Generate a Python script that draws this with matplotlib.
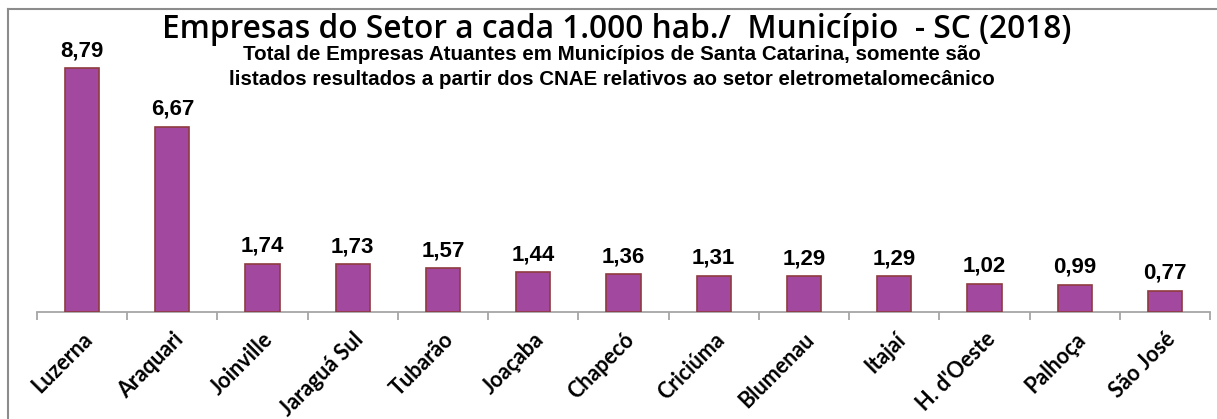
import matplotlib
matplotlib.use("Agg")
import matplotlib.pyplot as plt
from matplotlib.lines import Line2D

municipios = ["Luzerna", "Araquari", "Joinville", "Jaraguá Sul", "Tubarão", "Joaçaba",
              "Chapecó", "Criciúma", "Blumenau", "Itajaí", "H. d'Oeste", "Palhoça", "São José"]
valores = [8.79, 6.67, 1.74, 1.73, 1.57, 1.44, 1.36, 1.31, 1.29, 1.29, 1.02, 0.99, 0.77]
rotulos = ["8,79", "6,67", "1,74", "1,73", "1,57", "1,44", "1,36", "1,31", "1,29", "1,29", "1,02", "0,99", "0,77"]

titulo = "Empresas do Setor a cada 1.000 hab./  Município  - SC (2018)"
subtitulo = ("Total de Empresas Atuantes em Municípios de Santa Catarina, somente são\n"
             "listados resultados a partir dos CNAE relativos ao setor eletrometalomecânico")

W, H = 1217, 419
fig = plt.figure(figsize=(W / 100, H / 100), dpi=100)

# axes placement in pixels
x0, x1 = 37, 1210
ybase, ytop = 312, 20
ax = fig.add_axes([x0 / W, 1 - ybase / H, (x1 - x0) / W, (ybase - ytop) / H])

n = len(municipios)
pos = list(range(n))
ax.bar(pos, valores, width=0.38, color="#A2489E", edgecolor="#8E3B3F", linewidth=1.2, zorder=3)
ax.set_xlim(-0.5, n - 0.5)
ax.set_ylim(0, (ybase - ytop) / 27.75)

for p, v, r in zip(pos, valores, rotulos):
    ax.annotate(r, (p, v), xytext=(0, 5), textcoords="offset points", ha="center", va="bottom",
                fontsize=16, fontweight="bold", family="Liberation Sans", color="black")

for s in ["top", "right", "left"]:
    ax.spines[s].set_visible(False)
ax.spines["bottom"].set_color("#A6A6A6")
ax.spines["bottom"].set_linewidth(1.3)
ax.set_yticks([])
ax.set_xticks([i - 0.5 for i in range(n + 1)])
ax.set_xticklabels([])
ax.tick_params(axis="x", direction="out", length=6, width=1.3, color="#A6A6A6")
ax.set_xticks(pos, minor=True)
ax.set_xticklabels(municipios, minor=True, rotation=45, ha="right", rotation_mode="anchor",
                   fontsize=15.5, fontweight="bold", family="Lato")
ax.tick_params(axis="x", which="minor", length=0, pad=12)

# frame lines
fig.add_artist(Line2D([8 / W, 1], [1 - 9 / H, 1 - 9 / H], color="#8C8C8C", linewidth=1.5))
fig.add_artist(Line2D([8 / W, 8 / W], [0, 1 - 9 / H], color="#8C8C8C", linewidth=1.5))

fig.text(617 / W, 1 - 29 / H, titulo, ha="center", va="center", fontsize=22.8,
         family="Open Sans", fontweight="semibold")
fig.text(612 / W, 1 - 67 / H, subtitulo, ha="center", va="center", fontsize=14.8,
         family="Liberation Sans", fontweight="bold", linespacing=1.45)

fig.savefig("out.png", dpi=100)
